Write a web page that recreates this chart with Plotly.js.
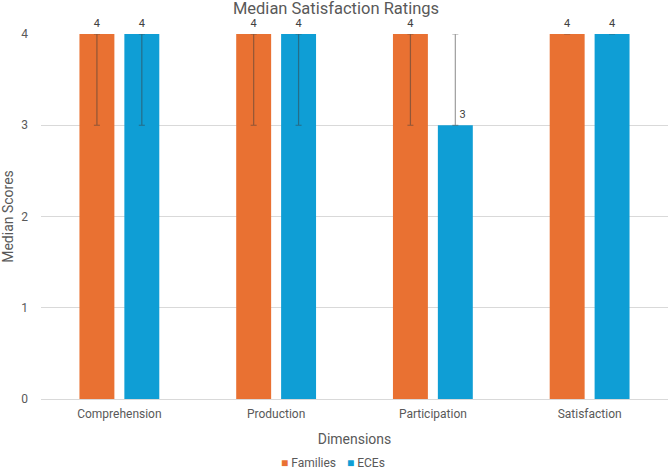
<!DOCTYPE html>
<html>
<head>
<meta charset="utf-8">
<script src="https://cdn.plot.ly/plotly-3.0.1.min.js"></script>
<style>html,body{margin:0;padding:0;background:#fff;}#chart{width:672px;height:476px;}</style>
</head>
<body>
<div id="chart"></div>
<script>
const categories = ['Comprehension', 'Production', 'Participation', 'Satisfaction'];
const seriesNames = ['Families', 'ECEs'];
const seriesColors = ['#E97132', '#0F9ED5'];
const familiesMedian = [4, 4, 4, 4];
const ecesMedian = [4, 4, 3, 4];
const familiesErrPlus = [0, 0, 0, 0];
const familiesErrMinus = [1, 1, 1, 0];
const ecesErrPlus = [0, 0, 1, 0];
const ecesErrMinus = [1, 1, 0, 0];

const fontFam = 'Roboto, "Open Sans", sans-serif';
const grey = '#595959';

function barTrace(name, vals, plus, minus, color) {
  return {
    type: 'bar', name: name, x: categories, y: vals,
    marker: {color: color},
    error_y: {type: 'data', symmetric: false, array: plus, arrayminus: minus,
              color: 'rgba(60,60,60,0.5)', thickness: 1.2, width: 3, visible: true},
    hoverinfo: 'x+y', showlegend: false
  };
}
function labelTrace(name, vals, plus) {
  return {
    type: 'scatter', mode: 'markers+text', name: name + ' labels', x: categories, y: vals,
    marker: {size: 5, color: 'rgba(0,0,0,0)'},
    text: vals.map(String),
    textposition: plus.map(p => p > 0 ? 'top right' : 'top center'),
    textfont: {family: fontFam, size: 11, color: '#404040'},
    cliponaxis: false, hoverinfo: 'skip', showlegend: false
  };
}

const data = [
  barTrace(seriesNames[0], familiesMedian, familiesErrPlus, familiesErrMinus, seriesColors[0]),
  barTrace(seriesNames[1], ecesMedian, ecesErrPlus, ecesErrMinus, seriesColors[1]),
  labelTrace(seriesNames[0], familiesMedian, familiesErrPlus),
  labelTrace(seriesNames[1], ecesMedian, ecesErrPlus)
];

// compact legend, Excel style
const legendX = [0.380, 0.485];
const legendAnn = seriesNames.map((n, i) => ({
  xref: 'paper', yref: 'paper', x: legendX[i], y: -0.175, xanchor: 'left', yanchor: 'middle',
  showarrow: false,
  text: '<span style="color:' + seriesColors[i] + '">■</span> ' + n,
  font: {size: 12, color: grey}
}));

const layout = {
  width: 672, height: 476,
  margin: {l: 41, r: 4, t: 34, b: 77, autoexpand: false},
  paper_bgcolor: '#fff', plot_bgcolor: '#fff',
  font: {family: fontFam, color: grey, size: 12},
  title: {text: 'Median Satisfaction Ratings', font: {size: 16.5, color: grey}, x: 0.5, xanchor: 'center', y: 0.994, yanchor: 'top'},
  barmode: 'group', bargap: 0.427, bargroupgap: 0.222,
  scattermode: 'group', scattergap: 0.427,
  xaxis: {
    title: {text: 'Dimensions', font: {size: 14, color: grey}, standoff: 14},
    tickfont: {size: 12, color: grey}, automargin: false,
    showline: false, ticks: '', showgrid: false, ticklabelstandoff: 6
  },
  yaxis: {
    title: {text: 'Median Scores', font: {size: 14, color: grey}, standoff: 6},
    range: [0, 4], dtick: 1, tickfont: {size: 12, color: grey}, automargin: false,
    gridcolor: '#d9d9d9', zeroline: true, zerolinecolor: '#d9d9d9', zerolinewidth: 1,
    showline: false, ticks: '', ticklabelstandoff: 12
  },
  annotations: legendAnn,
  showlegend: false
};

Plotly.newPlot('chart', data, layout, {displayModeBar: false, staticPlot: true});
</script>
</body>
</html>
